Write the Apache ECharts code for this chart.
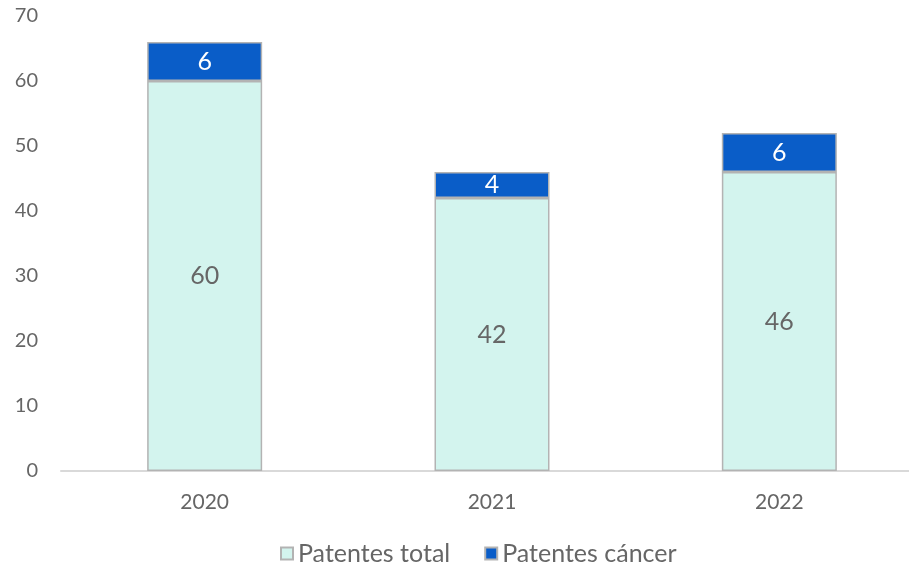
<!DOCTYPE html>
<html>
<head>
<meta charset="utf-8">
<script src="https://cdn.jsdelivr.net/npm/echarts@6/dist/echarts.min.js"></script>
<style>
  html, body { margin: 0; padding: 0; background: #fff; }
  #chart { width: 909px; height: 568px; }
</style>
</head>
<body>
<div id="chart"></div>
<script>
const years = ['2020', '2021', '2022']
const patentesTotal = [60, 42, 46]
const patentesCancer = [6, 4, 6]

const FONT = 'Lato'
const BORDER = '#b3b3b3'

const chart = echarts.init(document.getElementById('chart'))

chart.setOption({
  animation: false,
  textStyle: { fontFamily: FONT },
  grid: {
    left: 61,
    top: 16,
    width: 862,
    height: 455,
    containLabel: false,
    outerBoundsMode: 'none'
  },
  legend: {
    top: 536,
    left: 275,
    itemWidth: 12,
    itemHeight: 12,
    itemGap: 34,
    icon: 'rect',
    textStyle: { color: '#666666', fontSize: 25, fontFamily: FONT, padding: [0, 0, 0, 0] },
    data: ['Patentes total', 'Patentes cáncer']
  },
  xAxis: {
    type: 'category',
    data: years,
    axisLine: { lineStyle: { color: '#d9d9d9', width: 2 } },
    axisTick: { show: false },
    axisLabel: { color: '#666666', fontSize: 21, margin: 21 }
  },
  yAxis: {
    type: 'value',
    min: 0,
    max: 70,
    interval: 10,
    splitLine: { show: false },
    axisLine: { show: false },
    axisTick: { show: false },
    axisLabel: { color: '#666666', fontSize: 20, margin: 23 }
  },
  series: [
    {
      name: 'Patentes total',
      type: 'bar',
      stack: 'total',
      barWidth: 115,
      data: patentesTotal,
      itemStyle: { color: '#d3f4ee', borderColor: BORDER, borderWidth: 1.5 },
      label: {
        show: true,
        position: 'inside',
        color: '#666666',
        fontSize: 25,
        fontFamily: FONT
      }
    },
    {
      name: 'Patentes cáncer',
      type: 'bar',
      stack: 'total',
      barWidth: 115,
      data: patentesCancer,
      itemStyle: { color: '#0a5dc8', borderColor: BORDER, borderWidth: 1.5 },
      label: {
        show: true,
        position: 'inside',
        color: '#ffffff',
        fontSize: 25,
        fontFamily: FONT
      }
    }
  ]
})
</script>
</body>
</html>
